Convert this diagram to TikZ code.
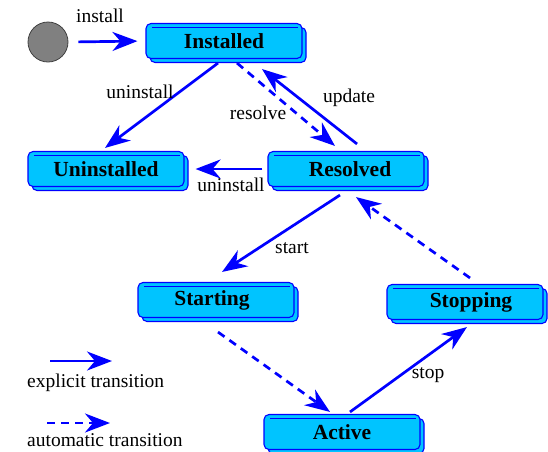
\documentclass[tikz,border=0pt]{standalone}
\usepackage{fontspec}
\setmainfont{Liberation Serif}
\usetikzlibrary{arrows.meta,shadows}
\definecolor{boxfill}{HTML}{00C4FF}
\definecolor{edgeblue}{HTML}{0000FF}
\begin{document}
\begin{tikzpicture}[x=1pt,y=-1pt,
  statebox/.style={rectangle, rounded corners=5pt, draw=edgeblue, line width=1.1pt,
    fill=boxfill, minimum width=156pt, minimum height=35pt, inner sep=0pt,
    font=\fontsize{21.5}{23}\selectfont\bfseries,
    copy shadow={shadow xshift=4pt, shadow yshift=-4pt},
    path picture={\draw[edgeblue, line width=0.8pt]
      ([xshift=6pt,yshift=-4pt]path picture bounding box.north west) --
      ([xshift=-4pt,yshift=-4pt]path picture bounding box.north east);}},
  trans/.style={draw=edgeblue, line width=2.7pt,
    -{Stealth[length=25pt,width=19pt,inset=8pt]}},
  autotrans/.style={trans, dash pattern=on 8pt off 6pt},
  lbl/.style={font=\fontsize{19.5}{21}\selectfont, inner sep=1pt}
]
\useasboundingbox (0,0) rectangle (548,451);

\node[circle, minimum size=40pt, draw=black!75, line width=0.8pt, fill=black!50] (init) at (48,42) {};

\node[statebox] (Installed)   at (224,41)  {Installed};
\node[statebox] (Uninstalled) at (106,169) {Uninstalled};
\node[statebox] (Resolved)    at (346,169) {\hspace*{8pt}Resolved};
\node[statebox] (Starting)    at (216,300) {Starting\hspace*{8pt}};
\node[statebox] (Stopping)    at (465,302) {\hspace*{12pt}Stopping};
\node[statebox] (Active)      at (342,432) {Active};

% transitions
\draw[trans, shorten <=10pt, shorten >=8pt] (init.east) -- (Installed.west);
\draw[trans] ([xshift=-6pt,yshift=-4pt]Installed.south) -- ([xshift=-1pt,yshift=3pt]Uninstalled.north);
\draw[autotrans] ([xshift=13pt,yshift=-4pt]Installed.south) -- ([xshift=-11pt,yshift=5pt]Resolved.north);
\draw[trans] ([xshift=11pt,yshift=7pt]Resolved.north) -- ([xshift=38pt,yshift=-10pt]Installed.south);
\draw[trans] ([xshift=-5pt]Resolved.west) -- ([xshift=11pt]Uninstalled.east);
\draw[trans] ([xshift=-6pt,yshift=-8pt]Resolved.south) -- ([xshift=6pt,yshift=10pt]Starting.north);
\draw[autotrans] ([xshift=2pt,yshift=-14pt]Starting.south) -- ([xshift=-12pt,yshift=2pt]Active.north);
\draw[trans] ([xshift=8pt,yshift=2pt]Active.north) -- ([xshift=2pt,yshift=-7pt]Stopping.south);
\draw[autotrans] ([xshift=5pt,yshift=6pt]Stopping.north) -- ([xshift=10pt,yshift=-10pt]Resolved.south);

% labels
\node[lbl] (linstall)   at (100,16)  {install};
\node[lbl] (luninst1)   at (140,92)  {uninstall};
\node[lbl] (lresolve)   at (258,113) {resolve};
\node[lbl] (lupdate)    at (349,98)  {update};
\node[lbl] (luninst2)   at (231,185) {uninstall};
\node[lbl] (lstart)     at (292,248) {start};
\node[lbl] (lstop)      at (428,375) {stop};

% legend
\coordinate (e1) at (50,361);
\coordinate (e2) at (112,361);
\coordinate (a1) at (47,423);
\coordinate (a2) at (110,423);
\draw[trans] (e1) -- (e2);
\draw[autotrans] (a1) -- (a2);
\node[lbl, anchor=west] (lexplicit)  at (26,383) {explicit transition};
\node[lbl, anchor=west] (lautomatic) at (26,440) {automatic transition};
\end{tikzpicture}
\end{document}
